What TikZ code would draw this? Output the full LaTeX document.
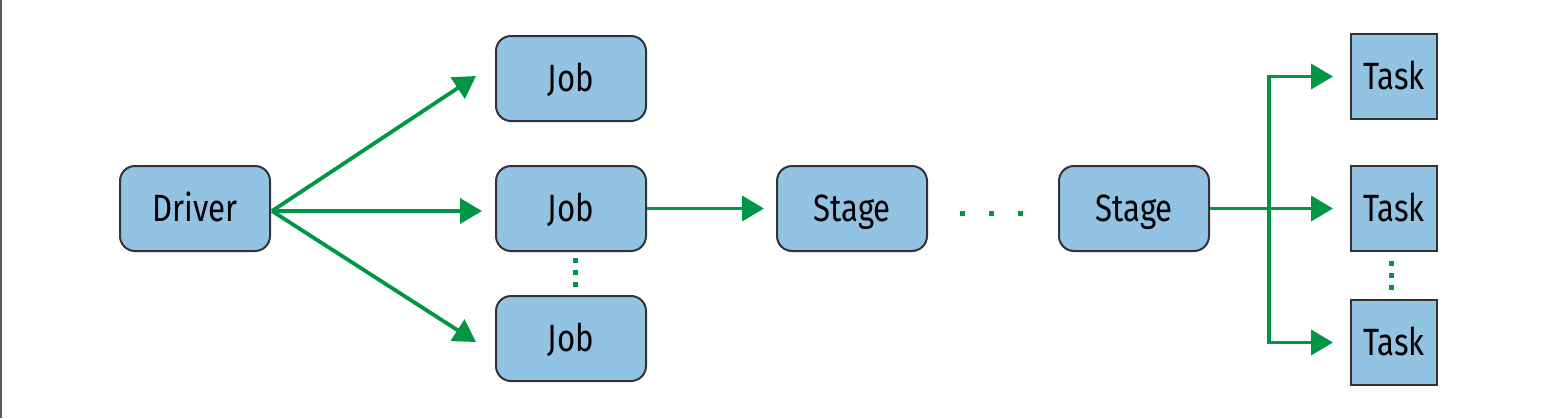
\documentclass[tikz,border=0pt]{standalone}
\usepackage{fontspec}
\setmainfont{Fira Sans}
\usetikzlibrary{arrows.meta,calc}
\definecolor{boxfill}{RGB}{147,195,227}
\definecolor{boxline}{RGB}{51,51,51}
\definecolor{flow}{RGB}{0,150,70}
\definecolor{frameline}{RGB}{90,90,90}
\tikzset{
  boxtext/.style={font=\fontsize{38}{42}\selectfont, text height=26pt, text depth=0pt},
  rbox/.style={draw=boxline, line width=2pt, fill=boxfill, rounded corners=15pt,
    minimum width=150pt, minimum height=85pt, inner sep=0pt, boxtext},
  tbox/.style={draw=boxline, line width=2pt, fill=boxfill,
    minimum width=86pt, minimum height=85pt, inner sep=0pt, boxtext},
  flowarrow/.style={draw=flow, line width=3.8pt, -{Triangle[length=22pt,width=25pt]}},
  flowline/.style={draw=flow, line width=3.8pt},
  dotmark/.style={fill=flow, minimum size=5pt, inner sep=0pt, draw=none}
}
\newcommand{\lbl}[1]{\scalebox{0.82}[1]{#1}}
\begin{document}
\begin{tikzpicture}[x=1pt,y=-1pt]
\useasboundingbox (0,0) rectangle (1552,418);
\fill[white] (0,0) rectangle (1552,418);
\draw[frameline, line width=2pt] (1,0) -- (1,418);

\node[rbox] (driver) at (195,208.5) {\lbl{Driver}};
\node[rbox] (job1) at (571,78.5) {\lbl{Job}};
\node[rbox] (job2) at (571,208.5) {\lbl{Job}};
\node[rbox] (job3) at (571,338.5) {\lbl{Job}};
\node[rbox] (stage1) at (852,208.5) {\lbl{Stage}};
\node[rbox] (stage2) at (1134,208.5) {\lbl{Stage}};
\node[tbox] (task1) at (1394,76.5) {\lbl{Task}};
\node[tbox] (task2) at (1394,208.5) {\lbl{Task}};
\node[tbox] (task3) at (1394,342.5) {\lbl{Task}};

% vertical dots between jobs
\node[dotmark] (jd1) at (575,260) {};
\node[dotmark] (jd2) at (575,272) {};
\node[dotmark] (jd3) at (575,284) {};
% horizontal dots between stages
\node[dotmark] (sd1) at (962,213) {};
\node[dotmark] (sd2) at (991,213) {};
\node[dotmark] (sd3) at (1020,213) {};
% vertical dots between tasks
\node[dotmark] (td1) at (1391,263) {};
\node[dotmark] (td2) at (1391,275) {};
\node[dotmark] (td3) at (1391,287) {};

\coordinate (dstart) at ($(driver.east)+(1,2.5)$);
\draw[flowarrow] (dstart) -- ($(job1.west)+(-19,-2.5)$);
\draw[flowarrow] (dstart) -- ($(job2.west)+(-13,2.5)$);
\draw[flowarrow] (dstart) -- ($(job3.west)+(-19,3.5)$);

\draw[flowarrow] (job2.east) -- ($(stage1.west)+(-12,0)$);

\coordinate (bus) at (1269,208.5);
\draw[flowarrow] (stage2.east) -- ($(task2.west)+(-17,0)$);
\draw[flowline] (bus |- task1.west) -- (bus |- task3.west);
\draw[flowarrow] ([xshift=-1.9pt]bus |- task1.west) -- ($(task1.west)+(-17,0)$);
\draw[flowarrow] ([xshift=-1.9pt]bus |- task3.west) -- ($(task3.west)+(-17,0)$);
\end{tikzpicture}
\end{document}
